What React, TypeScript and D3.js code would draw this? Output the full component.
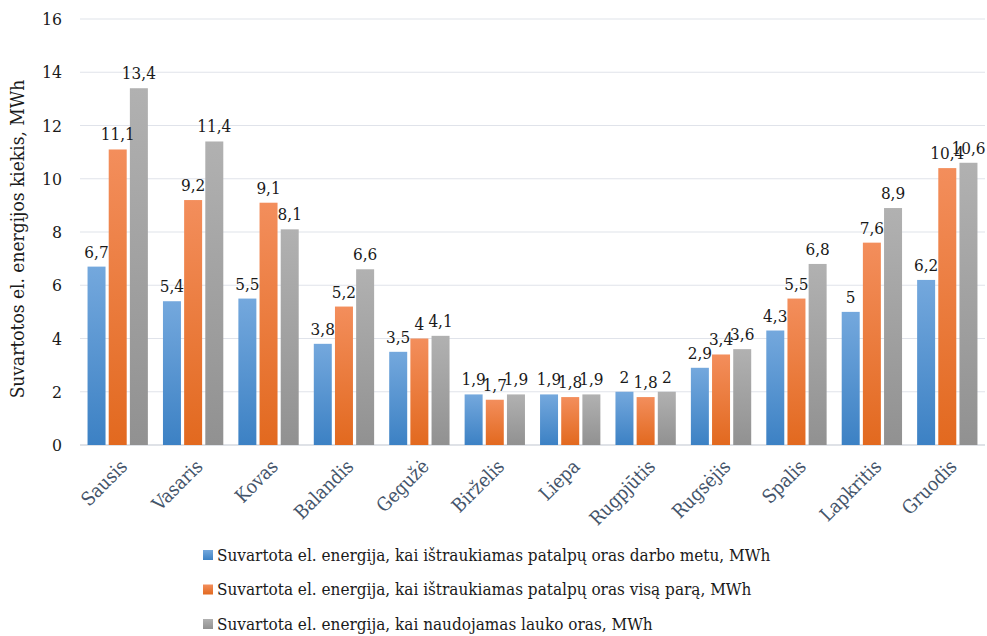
import React from "react";
import * as d3 from "d3";

const months = ["Sausis","Vasaris","Kovas","Balandis","Gegužė","Birželis","Liepa","Rugpjūtis","Rugsėjis","Spalis","Lapkritis","Gruodis"];
const darboMetu = [6.7,5.4,5.5,3.8,3.5,1.9,1.9,2,2.9,4.3,5,6.2];
const visaPara = [11.1,9.2,9.1,5.2,4,1.7,1.8,1.8,3.4,5.5,7.6,10.4];
const laukoOras = [13.4,11.4,8.1,6.6,4.1,1.9,1.9,2,3.6,6.8,8.9,10.6];
const yTicks = [0,2,4,6,8,10,12,14,16];
const seriesNames = [
  "Suvartota el. energija, kai ištraukiamas patalpų oras darbo metu, MWh",
  "Suvartota el. energija, kai ištraukiamas patalpų oras visą parą, MWh",
  "Suvartota el. energija, kai naudojamas lauko oras, MWh",
];
const yTitle = "Suvartotos el. energijos kiekis, MWh";

const gradients = [
  { id: "gBlue", top: "#74a8dd", bottom: "#3c81c4" },
  { id: "gOrange", top: "#f38e5c", bottom: "#e2691f" },
  { id: "gGray", top: "#b1b1b1", bottom: "#919191" },
];

const W = 987, H = 636;
const left = 80, right = 985, top = 19, bottom = 445;
const font = "'DejaVu Serif Condensed', 'DejaVu Serif', serif";

export default function App() {
  const data = [darboMetu, visaPara, laukoOras];
  const x = d3.scaleBand<string>().domain(months).range([left, right]).paddingInner(0.2).paddingOuter(0.1);
  const xs = d3.scaleBand<number>().domain([0,1,2]).range([0, x.bandwidth()]).paddingInner(0.15);
  const y = d3.scaleLinear().domain([0,16]).range([bottom, top]);
  const fmt = (v: number) => String(v).replace(".", ",");
  return (
    <svg width={W} height={H} style={{ position: "absolute", left: 0, top: 0, fontFamily: font, fontStretch: "condensed" }}>
      <defs>
        {gradients.map(g => (
          <linearGradient key={g.id} id={g.id} x1="0" y1="0" x2="0" y2="1">
            <stop offset="0%" stopColor={g.top} />
            <stop offset="100%" stopColor={g.bottom} />
          </linearGradient>
        ))}
      </defs>
      {yTicks.map(t => (
        <g key={t}>
          <line x1={left} x2={right} y1={y(t)} y2={y(t)} stroke={t === 0 ? "#d4d8df" : "#e0e3ea"} strokeWidth={t === 0 ? 1.5 : 1.2} />
          <text x={62} y={y(t)} dy="0.35em" textAnchor="end" fontSize={17.5} fill="#1a1a1a">{t}</text>
        </g>
      ))}
      {data.map((series, si) => (
        <g key={si}>
          {series.map((v, i) => {
            const bx = (x(months[i]) as number) + (xs(si) as number);
            return (
              <rect key={i} x={bx} y={y(v)} width={xs.bandwidth()} height={y(0) - y(v)} fill={`url(#${gradients[si].id})`} />
            );
          })}
        </g>
      ))}
      {data.map((series, si) => (
        <g key={"l" + si}>
          {series.map((v, i) => {
            const cx = (x(months[i]) as number) + (xs(si) as number) + xs.bandwidth() / 2;
            return (
              <text key={i} x={cx} y={y(v) - 9} textAnchor="middle" fontSize={17} fill="#1a1a1a">{fmt(v)}</text>
            );
          })}
        </g>
      ))}
      {months.map(m => {
        const cx = (x(m) as number) + x.bandwidth() / 2;
        return (
          <text key={m} transform={`translate(${cx + 6},${463}) rotate(-45)`} textAnchor="end" dy="0.35em" fontSize={19} fill="#44546a">{m}</text>
        );
      })}
      <text transform={`translate(17,239) rotate(-90)`} textAnchor="middle" dy="0.35em" fontSize={19} fill="#1a1a1a">{yTitle}</text>
      {seriesNames.map((n, i) => {
        const ry = 555 + i * 34.5;
        return (
          <g key={n}>
            <rect x={203} y={ry - 5} width={10} height={10} fill={`url(#${gradients[i].id})`} />
            <text x={217} y={ry} dy="0.35em" fontSize={17} fill="#1a1a1a">{n}</text>
          </g>
        );
      })}
    </svg>
  );
}
